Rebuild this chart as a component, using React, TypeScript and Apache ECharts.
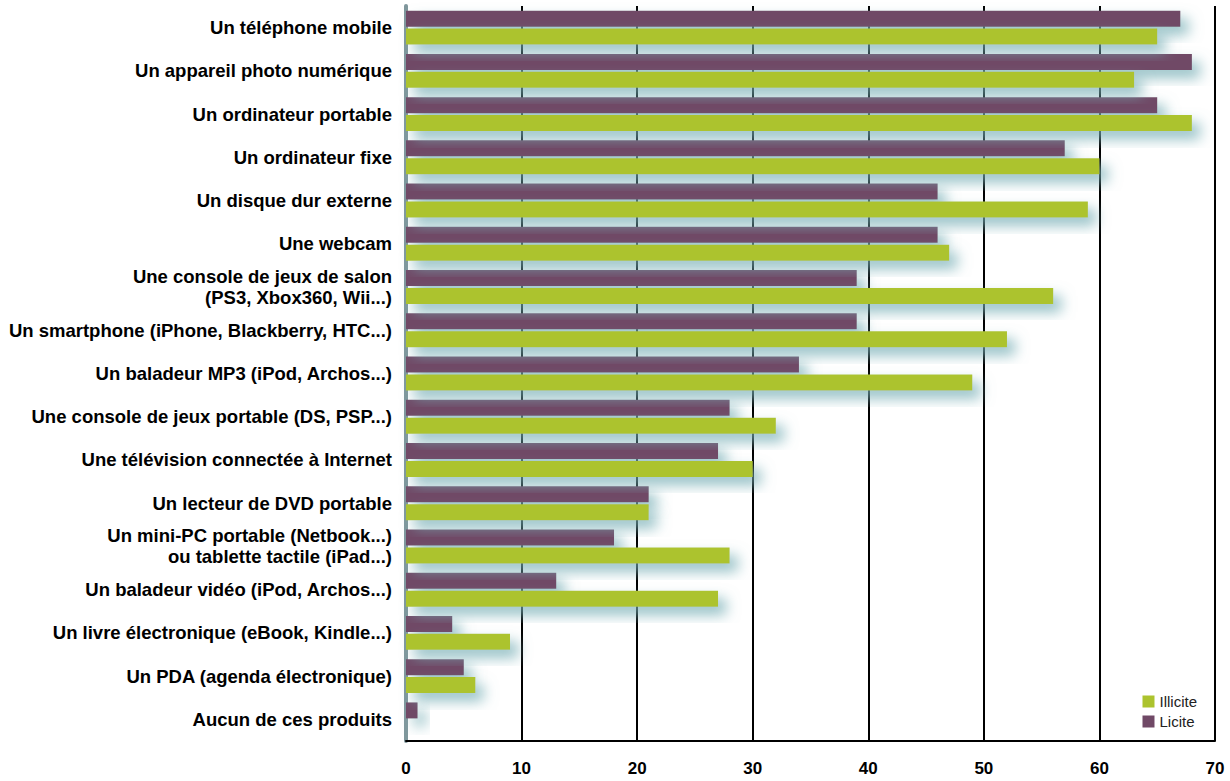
import React, { useEffect, useRef } from "react";
import * as echarts from "echarts";

const categories = [
  "Un téléphone mobile",
  "Un appareil photo numérique",
  "Un ordinateur portable",
  "Un ordinateur fixe",
  "Un disque dur externe",
  "Une webcam",
  "Une console de jeux de salon\n(PS3, Xbox360, Wii...)",
  "Un smartphone (iPhone, Blackberry, HTC...)",
  "Un baladeur MP3 (iPod, Archos...)",
  "Une console de jeux portable (DS, PSP...)",
  "Une télévision connectée à Internet",
  "Un lecteur de DVD portable",
  "Un mini-PC portable (Netbook...)\nou tablette tactile (iPad...)",
  "Un baladeur vidéo (iPod, Archos...)",
  "Un livre électronique (eBook, Kindle...)",
  "Un PDA (agenda électronique)",
  "Aucun de ces produits",
];

const licite = [67, 68, 65, 57, 46, 46, 39, 39, 34, 28, 27, 21, 18, 13, 4, 5, 1];
const illicite = [65, 63, 68, 60, 59, 47, 56, 52, 49, 32, 30, 21, 28, 27, 9, 6, 0];

const xTicks = [0, 10, 20, 30, 40, 50, 60, 70];

const PURPLE = "#704966";
const GREEN = "#acc32e";

export default function App() {
  const ref = useRef<HTMLDivElement>(null);
  useEffect(() => {
    if (!ref.current) return;
    const chart = echarts.init(ref.current, null, { renderer: "svg" });
    const shadow = {
      shadowBlur: 14,
      shadowColor: "rgba(120,175,182,0.8)",
      shadowOffsetX: 8,
      shadowOffsetY: 8,
    };
    chart.setOption({
      animation: false,
      backgroundColor: "#ffffff",
      textStyle: { fontFamily: "Liberation Sans, Arial, sans-serif" },
      grid: { left: 406, right: 15, top: 6, bottom: 40, containLabel: false },
      legend: {
        data: ["Illicite", "Licite"],
        orient: "vertical",
        right: 28,
        bottom: 47,
        itemWidth: 12,
        itemHeight: 12,
        itemGap: 5,
        icon: "rect",
        textStyle: { fontSize: 15, color: "#222", fontFamily: "Liberation Sans, Arial, sans-serif" },
      },
      xAxis: {
        type: "value",
        min: xTicks[0],
        max: xTicks[xTicks.length - 1],
        interval: 10,
        axisLine: { show: true, lineStyle: { color: "#000", width: 2 } },
        axisTick: { show: false },
        axisLabel: { fontSize: 17, fontWeight: "bold", color: "#000", margin: 19 },
        splitLine: { show: true, lineStyle: { color: "#000", width: 2 } },
      },
      yAxis: {
        type: "category",
        data: categories,
        inverse: true,
        axisLine: { show: true, lineStyle: { color: "#7f979c", width: 4 } },
        axisTick: { show: false },
        axisLabel: {
          fontSize: 18.5,
          fontWeight: "bold",
          color: "#000",
          margin: 14,
          lineHeight: 21,
          align: "right",
        },
      },
      series: [
        {
          name: "Licite",
          type: "bar",
          data: licite,
          barWidth: 16,
          barGap: "12%",
          itemStyle: { color: PURPLE, ...shadow },
        },
        {
          name: "Illicite",
          type: "bar",
          data: illicite,
          barWidth: 16,
          barGap: "12%",
          itemStyle: { color: GREEN, ...shadow },
        },
      ],
    });
    return () => chart.dispose();
  }, []);
  return (
    <div
      ref={ref}
      style={{ position: "fixed", left: 0, top: 0, width: 1230, height: 781, background: "#fff" }}
    />
  );
}
